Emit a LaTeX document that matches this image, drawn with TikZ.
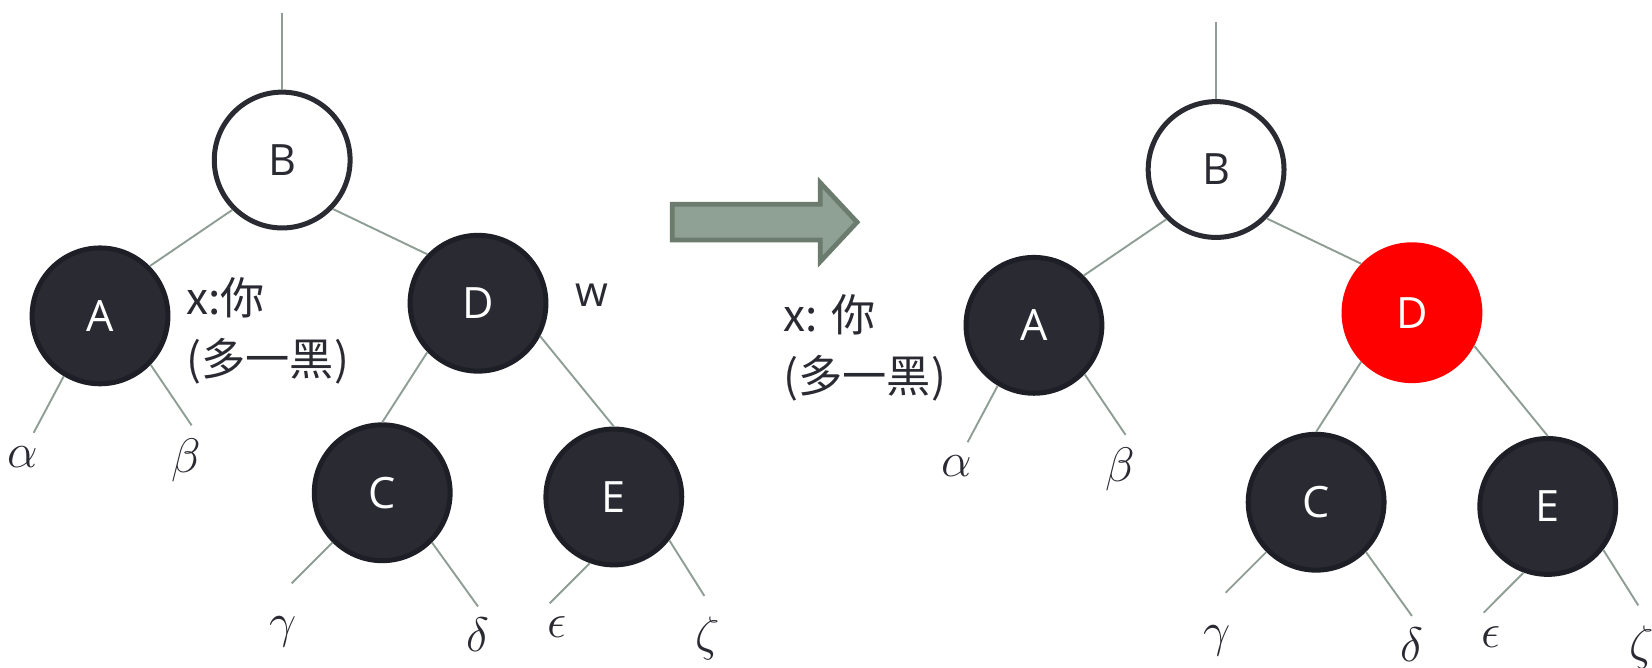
\RequirePackage{fix-cm}
\documentclass[tikz,border=0pt]{standalone}
\usepackage{fontspec}
\setmainfont{Open Sans}
\newfontfamily\cjkfont{Noto Sans CJK SC}
\definecolor{nodedark}{HTML}{2A2A33}
\definecolor{nodeline}{HTML}{1E1E26}
\definecolor{edgegray}{HTML}{8E9E95}
\definecolor{arrowfill}{HTML}{8FA195}
\definecolor{arrowline}{HTML}{6B7B6E}
\definecolor{pureRed}{HTML}{FF0000}
\tikzset{
  rbnode/.style={circle, minimum size=129pt, inner sep=0pt, line width=4.75pt,
    font=\fontsize{41}{48}\selectfont},
  blacknode/.style={rbnode, draw=nodeline, fill=nodedark, text=white},
  whitenode/.style={rbnode, draw=nodedark, fill=white, text=nodedark},
  rednode/.style={rbnode, draw=pureRed, fill=pureRed, text=white},
  treeedge/.style={draw=edgegray, line width=1.8pt},
  greek/.style={inner sep=0pt, text=nodedark, font=\fontsize{46}{50}\selectfont},
  notelabel/.style={inner sep=0pt, anchor=west, align=left, text=nodedark,
    font=\cjkfont\fontsize{42}{58}\selectfont},
  sidelabel/.style={inner sep=0pt, text=nodedark, font=\fontsize{40}{48}\selectfont},
}
\newcommand\drawrbtree[2]{%
  \node[whitenode] (#1B) at (268,152) {B};
  \node[blacknode] (#1A) at (95,300) {A};
  \node[#2] (#1D) at (454,288) {D};
  \node[blacknode] (#1C) at (363,468) {C};
  \node[blacknode] (#1E) at (583,472) {E};
  \node[greek] (#1alpha) at (22,434) {$\alpha$};
  \node[greek] (#1beta) at (177,437) {$\beta$};
  \node[greek] (#1gamma) at (269,600) {$\gamma$};
  \node[greek] (#1delta) at (454,603) {$\delta$};
  \node[greek] (#1eps) at (529,596) {$\epsilon$};
  \node[greek] (#1zeta) at (672,606) {$\zeta$};
  \coordinate (#1top) at (268,12);
  \coordinate (#1aend) at (32,411);
  \coordinate (#1bend) at (182,404);
  \coordinate (#1gend) at (277,554);
  \coordinate (#1dend) at (454,576);
  \coordinate (#1eend) at (522,573);
  \coordinate (#1zend) at (669,566);
  \draw[treeedge] (#1B.north) -- (#1top);
  \draw[treeedge] (#1B.south west) -- (#1A.north east);
  \draw[treeedge] (#1B.-44) -- (#1D.136);
  \draw[treeedge] (#1D.224) -- (#1C.north);
  \draw[treeedge] (#1D.-28.5) -- (#1E.north);
  \draw[treeedge] (#1A.239) -- (#1aend);
  \draw[treeedge] (#1A.-44) -- (#1bend);
  \draw[treeedge] (#1C.225.5) -- (#1gend);
  \draw[treeedge] (#1C.-45) -- (#1dend);
  \draw[treeedge] (#1E.250) -- (#1eend);
  \draw[treeedge] (#1E.-38.7) -- (#1zend);
}
\begin{document}
\begin{tikzpicture}[x=1pt, y=-1pt]
  \fill[white] (0,0) rectangle (1569,634.4);
  \useasboundingbox (0,0) rectangle (1569,634.4);
  % left tree
  \drawrbtree{L}{blacknode}
  \node[notelabel] (Lnote) at (177,314.5) {x:你\\(多一黑)};
  \node[sidelabel] (Lw) at (562,280) {w};
  % transition arrow
  \draw[draw=arrowline, fill=arrowfill, line width=4.5pt, line join=miter]
    (638.5,194) -- (779,194) -- (779,173.5) -- (814,211) -- (779,248.5)
    -- (779,228) -- (638.5,228) -- cycle;
  % right tree
  \begin{scope}[shift={(887,9)}]
    \drawrbtree{R}{rednode}
  \end{scope}
  \node[notelabel] (Rnote) at (744,330.5) {x: 你\\(多一黑)};
\end{tikzpicture}
\end{document}
